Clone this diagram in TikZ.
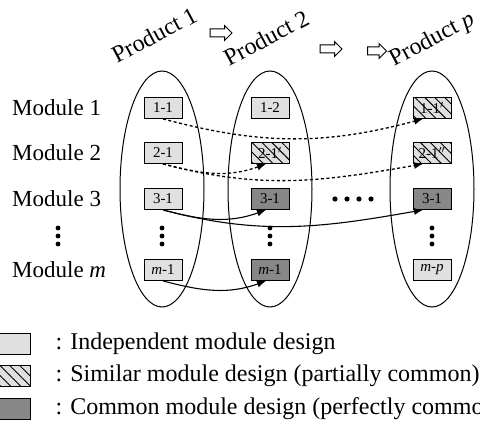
\documentclass[tikz,border=0pt]{standalone}
\usepackage{fontspec}
\setmainfont{Liberation Serif}
\usetikzlibrary{arrows.meta,positioning,shapes.geometric,shapes.arrows,patterns.meta}

\begin{document}
\begin{tikzpicture}[x=1pt, y=-1pt,
		every node/.style={inner sep=0pt},
		product/.style={draw, ellipse, line width=1pt, minimum width=84pt, minimum height=236pt},
		module/.style={draw, line width=0.8pt, minimum width=38pt, minimum height=21pt, font=\fontsize{15}{15}\selectfont},
		indep/.style={module, fill=black!12},
		similar/.style={module, preaction={fill=black!12}, pattern={Lines[angle=-45, distance=7pt, line width=0.9pt]}},
		common/.style={module, fill=black!47},
		rowname/.style={font=\fontsize{23}{23}\selectfont, anchor=west},
		prodname/.style={font=\fontsize{24}{24}\selectfont, rotate=28, anchor=base west},
		legend/.style={font=\fontsize{24}{24}\selectfont, right=25pt of #1},
		nextprod/.style={draw, single arrow, fill=white, line width=1pt, minimum height=22pt, minimum width=14pt, single arrow head extend=3.5pt, single arrow head indent=0pt, inner sep=3.5pt},
		post/.style={-{Latex[length=9pt,width=7pt]}, line width=1.1pt},
		shared/.style={post, line width=1.3pt, dash pattern=on 3pt off 2.5pt}]

	\useasboundingbox (0,0) rectangle (480,425);

	% products
	\node[product] (P1) at (162,189) {};
	\node[product] (P2) at (270,189) {};
	\node[product] (Pp) at (432,189) {};

	\node[prodname] (T1) at (117,64) {Product 1};
	\node[prodname] (T2) at (229,67) {Product 2};
	\node[prodname] (Tp) at (394,67) {Product \textit{p}};

	\node[nextprod] (N1) at (219,33) {};
	\node[nextprod] (N2) at (329,49) {};
	\node[nextprod, minimum height=19pt] (N3) at (375,51) {};

	% module names
	\node[rowname] (M1) at (12,108) {Module 1};
	\node[rowname] (M2) at (12,153) {Module 2};
	\node[rowname] (M3) at (12,199) {Module 3};
	\node[rowname] (Mm) at (12,270) {Module \textit{m}};

	% module designs
	\node[indep] (a1) at (163,108) {1-1};
	\node[indep] (a2) at (163,153) {2-1};
	\node[indep] (a3) at (163,199) {3-1};
	\node[indep] (am) at (163,270) {\textit{m}-1};

	\node[indep] (b1) at (270,108) {1-2};
	\node[similar] (b2) at (270,153) {2-1$'$};
	\node[common] (b3) at (270,199) {3-1};
	\node[common] (bm) at (270,270) {\textit{m}-1};

	\node[similar] (c1) at (432,108) {1-1$'$};
	\node[similar] (c2) at (432,153) {2-1$''$};
	\node[common] (c3) at (432,199) {3-1};
	\node[indep] (cm) at (432,270) {\textit{m}-\textit{p}};

	\foreach \x in {58,162,270,432}
		\foreach \d in {-8,0,8}
			\fill (\x,236+\d) circle (2.4pt);
	\foreach \i in {0,...,3}
		\fill (335+12*\i,199) circle (2.6pt);

	% reuse
	\draw[shared] (a1.south) to[out=-15, in=195] ([xshift=-9pt]c1.south);
	\draw[shared] (a2.south) to[out=-15, in=200] ([xshift=-4pt]b2.south);
	\draw[shared] (a2.south) to[out=-15, in=190] ([xshift=-9pt]c2.south);
	\draw[post] (a3.south) to[out=-15, in=200] ([xshift=-4pt]b3.south);
	\draw[post] (a3.south) to[out=-15, in=190] ([xshift=-9pt]c3.south);
	\draw[post] (am.south) to[out=-15, in=200] ([xshift=-4pt]bm.south);

	% legend
	\node[indep] (K1) at (11,343.5) {};
	\node[similar] (K2) at (11,375.5) {};
	\node[common] (K3) at (11,408.5) {};
	\node[legend=K1] (L1) {: Independent module design};
	\node[legend=K2] (L2) {: Similar module design (partially common)};
	\node[legend=K3] (L3) {: Common module design (perfectly common)};

\end{tikzpicture}
\end{document}
